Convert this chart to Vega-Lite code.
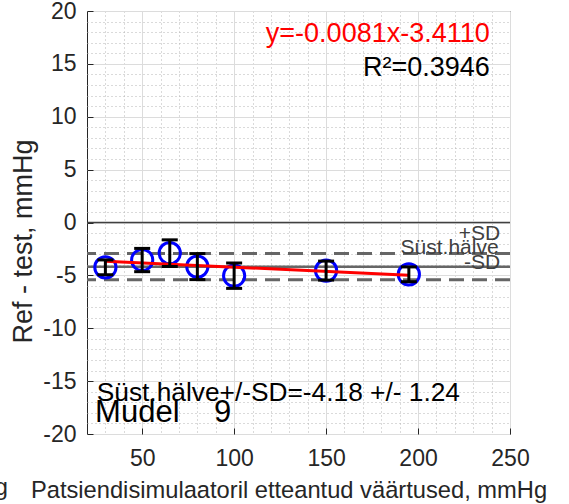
{
  "$schema": "https://vega.github.io/schema/vega-lite/v6.json",
  "width": 423,
  "height": 423,
  "autosize": {"type": "none"},
  "padding": {"left": 87, "top": 11, "right": 59, "bottom": 70},
  "background": "white",
  "title": {"text": "Bland-Altmani graafik, diastoolsed väärtused", "font": "Liberation Sans", "fontSize": 24, "fontWeight": "bold", "color": "#000000", "frame": "group", "anchor": "middle", "baseline": "alphabetic", "offset": 8},
  "config": {
    "font": "Liberation Sans",
    "view": {"stroke": "#262626", "strokeWidth": 1},
    "axis": {"domain": false, "labelFont": "Liberation Sans", "titleFont": "Liberation Sans", "labelColor": "#262626", "titleColor": "#262626", "titleFontWeight": "normal", "labelFlush": false, "labelOverlap": false}
  },
  "datasets": {
    "points": [
      {"x": 30, "d": -4.24, "lo": -4.94, "hi": -3.54},
      {"x": 50, "d": -3.55, "lo": -4.65, "hi": -2.45},
      {"x": 65, "d": -2.9, "lo": -4.16, "hi": -1.64},
      {"x": 80, "d": -4.17, "lo": -5.4, "hi": -2.94},
      {"x": 100, "d": -5.03, "lo": -6.23, "hi": -3.83},
      {"x": 150, "d": -4.55, "lo": -5.45, "hi": -3.65},
      {"x": 195, "d": -4.9, "lo": -5.6, "hi": -4.2}
    ],
    "fit": [{"x": 30, "y": -3.654}, {"x": 195, "y": -4.9905}],
    "sd": [{"level": -2.94}, {"level": -5.42}],
    "mean": [{"level": -4.18}],
    "zero": [{"level": 0}]
  },
  "resolve": {"axis": {"x": "independent", "y": "independent"}},
  "layer": [
    {
      "data": {"name": "points"},
      "mark": {"type": "point", "opacity": 0},
      "encoding": {
        "x": {"field": "x", "type": "quantitative", "scale": {"domain": [20, 250], "nice": false, "zero": false},
          "axis": {"orient": "bottom", "title": null, "labels": false, "ticks": false, "domain": false,
            "values": [30,40,60,70,80,90,110,120,130,140,160,170,180,190,210,220,230,240],
            "grid": true, "gridColor": "#b4b4b4", "gridDash": [1, 3], "gridWidth": 1}},
        "y": {"field": "d", "type": "quantitative", "scale": {"domain": [-20, 20], "nice": false, "zero": false},
          "axis": {"orient": "left", "title": null, "labels": false, "ticks": false, "domain": false,
            "values": [-19,-18,-17,-16,-14,-13,-12,-11,-9,-8,-7,-6,-4,-3,-2,-1,1,2,3,4,6,7,8,9,11,12,13,14,16,17,18,19],
            "grid": true, "gridColor": "#b4b4b4", "gridDash": [1, 3], "gridWidth": 1}}
      }
    },
    {
      "layer": [
        {
          "data": {"name": "points"},
          "mark": {"type": "point", "opacity": 0},
          "encoding": {
            "x": {"field": "x", "type": "quantitative", "scale": {"domain": [20, 250], "nice": false, "zero": false},
              "axis": {"orient": "bottom", "title": "Patsiendisimulaatoril etteantud väärtused, mmHg", "titleFontSize": 23.7, "labelFontSize": 23,
                "values": [50, 100, 150, 200, 250], "labelOverlap": false, "labelFlush": false,
                "grid": true, "gridColor": "#dcdcdc", "gridWidth": 1,
                "tickColor": "#262626", "tickSize": -6, "tickWidth": 1,
                "labelPadding": 19, "titlePadding": 8, "titleX": 201.5}},
            "y": {"field": "d", "type": "quantitative", "scale": {"domain": [-20, 20], "nice": false, "zero": false},
              "axis": {"orient": "left", "title": "Ref - test, mmHg", "titleFontSize": 27, "labelFontSize": 23,
                "values": [-20, -15, -10, -5, 0, 5, 10, 15, 20], "labelOverlap": false, "labelFlush": false,
                "labelExpr": "datum.value + ''",
                "grid": true, "gridColor": "#dcdcdc", "gridWidth": 1,
                "tickColor": "#262626", "tickSize": -6, "tickWidth": 1,
                "labelPadding": 17, "titlePadding": 5, "titleY": 230}}
          }
        },
        {
          "data": {"name": "zero"},
          "mark": {"type": "rule", "color": "#404040", "strokeWidth": 1.5},
          "encoding": {"y": {"field": "level", "type": "quantitative"}}
        },
        {
          "data": {"name": "sd"},
          "mark": {"type": "rule", "color": "#666666", "strokeWidth": 3, "strokeDash": [15, 8]},
          "encoding": {"y": {"field": "level", "type": "quantitative"}}
        },
        {
          "data": {"name": "mean"},
          "mark": {"type": "rule", "color": "#666666", "strokeWidth": 2.5},
          "encoding": {"y": {"field": "level", "type": "quantitative"}}
        },
        {
          "data": {"name": "points"},
          "mark": {"type": "point", "shape": "circle", "filled": false, "color": "#0000ff", "strokeWidth": 3, "size": 450, "opacity": 1},
          "encoding": {"x": {"field": "x", "type": "quantitative"}, "y": {"field": "d", "type": "quantitative"}}
        },
        {
          "data": {"name": "fit"},
          "mark": {"type": "line", "color": "#ff0000", "strokeWidth": 3},
          "encoding": {"x": {"field": "x", "type": "quantitative"}, "y": {"field": "y", "type": "quantitative"}}
        },
        {
          "data": {"name": "points"},
          "mark": {"type": "rule", "color": "#000000", "strokeWidth": 3},
          "encoding": {"x": {"field": "x", "type": "quantitative"}, "y": {"field": "lo", "type": "quantitative"}, "y2": {"field": "hi"}}
        },
        {
          "data": {"name": "points"},
          "mark": {"type": "tick", "orient": "horizontal", "color": "#000000", "size": 16, "thickness": 3, "opacity": 1},
          "encoding": {"x": {"field": "x", "type": "quantitative"}, "y": {"field": "lo", "type": "quantitative"}}
        },
        {
          "data": {"name": "points"},
          "mark": {"type": "tick", "orient": "horizontal", "color": "#000000", "size": 16, "thickness": 3, "opacity": 1},
          "encoding": {"x": {"field": "x", "type": "quantitative"}, "y": {"field": "hi", "type": "quantitative"}}
        },
        {
          "data": {"values": [{"x": 239, "y": 17.8, "t": "y=-0.0081x-3.4110"}]},
          "mark": {"type": "text", "color": "#ff0000", "fontSize": 27, "align": "right", "baseline": "middle"},
          "encoding": {"x": {"field": "x", "type": "quantitative"}, "y": {"field": "y", "type": "quantitative"}, "text": {"field": "t"}}
        },
        {
          "data": {"values": [{"x": 239, "y": 14.6, "t": "R²=0.3946"}]},
          "mark": {"type": "text", "color": "#000000", "fontSize": 27, "align": "right", "baseline": "middle"},
          "encoding": {"x": {"field": "x", "type": "quantitative"}, "y": {"field": "y", "type": "quantitative"}, "text": {"field": "t"}}
        },
        {
          "data": {"values": [
            {"x": 244.6, "y": -1.1, "t": "+SD"},
            {"x": 243.8, "y": -2.45, "t": "Süst.hälve"},
            {"x": 244.6, "y": -3.8, "t": "-SD"}
          ]},
          "mark": {"type": "text", "color": "#404040", "fontSize": 21, "align": "right", "baseline": "middle"},
          "encoding": {"x": {"field": "x", "type": "quantitative"}, "y": {"field": "y", "type": "quantitative"}, "text": {"field": "t"}}
        },
        {
          "data": {"values": [{"x": 25.3, "y": -16.1, "t": "Süst.hälve+/-SD=-4.18 +/- 1.24"}]},
          "mark": {"type": "text", "color": "#000000", "fontSize": 26.3, "align": "left", "baseline": "middle"},
          "encoding": {"x": {"field": "x", "type": "quantitative"}, "y": {"field": "y", "type": "quantitative"}, "text": {"field": "t"}}
        },
        {
          "data": {"values": [{"x": 24.4, "y": -18.0, "t": "Mudel\u00a0\u00a0\u00a0\u00a09"}]},
          "mark": {"type": "text", "color": "#000000", "fontSize": 31, "align": "left", "baseline": "middle"},
          "encoding": {"x": {"field": "x", "type": "quantitative"}, "y": {"field": "y", "type": "quantitative"}, "text": {"field": "t"}}
        },
        {
          "data": {"values": [{"x": -23, "y": -25.1, "t": "mmHg"}]},
          "mark": {"type": "text", "color": "#262626", "fontSize": 23.7, "align": "right", "baseline": "middle"},
          "encoding": {"x": {"field": "x", "type": "quantitative"}, "y": {"field": "y", "type": "quantitative"}, "text": {"field": "t"}}
        }
      ]
    }
  ]
}
